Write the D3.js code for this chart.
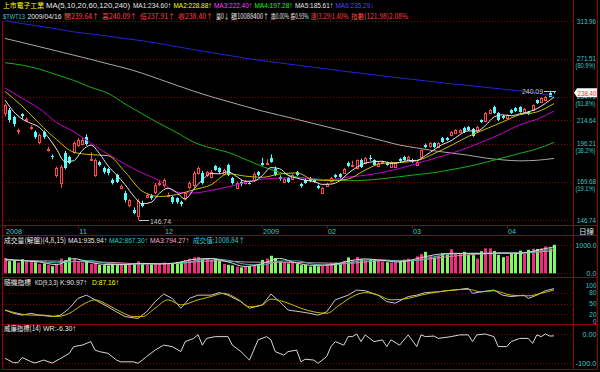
<!DOCTYPE html>
<html><head><meta charset="utf-8">
<script src="https://cdn.jsdelivr.net/npm/d3@7"></script>
<style>html,body{margin:0;padding:0;background:#000;}svg{display:block;}</style>
</head><body>
<svg id="c" width="600" height="372"></svg>
<script>
// ---------------- DATA ----------------
const dates = [
"2008/10/08","2008/10/09","2008/10/13","2008/10/14","2008/10/15","2008/10/16","2008/10/17","2008/10/20","2008/10/21","2008/10/22","2008/10/23","2008/10/24","2008/10/27","2008/10/28","2008/10/29","2008/10/30","2008/10/31",
"2008/11/03","2008/11/04","2008/11/05","2008/11/06","2008/11/07","2008/11/10","2008/11/11","2008/11/12","2008/11/13","2008/11/14","2008/11/17","2008/11/18","2008/11/19","2008/11/20","2008/11/21","2008/11/24","2008/11/25","2008/11/26","2008/11/27","2008/11/28",
"2008/12/01","2008/12/02","2008/12/03","2008/12/04","2008/12/05","2008/12/08","2008/12/09","2008/12/10","2008/12/11","2008/12/12","2008/12/15","2008/12/16","2008/12/17","2008/12/18","2008/12/19","2008/12/22","2008/12/23","2008/12/24","2008/12/25","2008/12/26","2008/12/29","2008/12/30","2008/12/31",
"2009/01/05","2009/01/06","2009/01/07","2009/01/08","2009/01/09","2009/01/10","2009/01/12","2009/01/13","2009/01/14","2009/01/15","2009/01/16","2009/01/17","2009/01/19","2009/01/20","2009/01/21",
"2009/02/02","2009/02/03","2009/02/04","2009/02/05","2009/02/06","2009/02/09","2009/02/10","2009/02/11","2009/02/12","2009/02/13","2009/02/16","2009/02/17","2009/02/18","2009/02/19","2009/02/20","2009/02/23","2009/02/24","2009/02/25","2009/02/26","2009/02/27",
"2009/03/02","2009/03/03","2009/03/04","2009/03/05","2009/03/06","2009/03/09","2009/03/10","2009/03/11","2009/03/12","2009/03/13","2009/03/16","2009/03/17","2009/03/18","2009/03/19","2009/03/20","2009/03/23","2009/03/24","2009/03/25","2009/03/26","2009/03/27","2009/03/30","2009/03/31",
"2009/04/01","2009/04/02","2009/04/03","2009/04/06","2009/04/07","2009/04/08","2009/04/09","2009/04/10","2009/04/13","2009/04/14","2009/04/15","2009/04/16"];

const monthLabels = [["2008/10/08","2008"],["2008/11/03","11"],["2008/12/01","12"],["2009/01/05","2009"],["2009/02/02","02"],["2009/03/02","03"],["2009/04/01","04"]];

const openP = [220.5,223,217,206,219.5,215,208.5,205.5,197.6,205.2,192,187,174.2,169,189.4,186.6,190.1,
195.3,195.9,201.4,184.8,174.2,183.1,178.9,178.2,170.9,174.2,165.8,162.6,155.4,152.5,149,156.6,160.2,161,163.3,168.6,
167.7,161,160.2,159.6,157.2,159.6,166.4,167.7,175.6,175.6,174.2,172.9,180.3,178.9,174.9,181,172.2,165.8,169.6,169,169.3,170.9,176.2,
182.4,182.2,185.9,178.2,172.9,169.6,172.2,171.5,176.2,168.3,170.9,172.2,170.9,167,162.6,
167,170.2,174.2,174.9,175.6,182.4,180.8,178.9,184.5,182.4,186.2,184.5,180.3,182.4,182.4,179.6,179.6,185.2,186.6,185.2,
184.5,181,186.6,195.3,194.5,196.8,193.8,200.6,200.6,202.9,204.5,205.2,208.4,209.2,207.6,206,214.9,214,220.7,225.8,220.7,218.2,
216.5,223.2,225,225.8,220.7,221.5,223.2,231.9,230.2,231.9,238.5,239.64];
const highP = [229,225,218.5,208,220.5,217,210.5,206.5,204,206.5,194,188.5,180,181,191,187.5,198,
200.5,201,203.5,190,185.5,184,180,179,172,175,168,164,159,154,159,158,162.5,162,169,171,
172,163,161,160,158,163.5,170,177,180,177,177,177.5,181,179.5,178.5,182,173,170,171,171,170,176,177,
186,185,188.5,180,174,172.5,173,175,177,169,172,173,171.5,168,166.5,
169,173,175,175.5,179,183.5,184,185,185.5,186.5,188,185,183.5,184,183.5,183.5,183,186,187.5,187.5,
185.5,183.8,192,196.5,197.5,197.5,197.5,201.5,201.5,206,207.5,207.5,209.5,210,208.5,210,215.5,221.5,224,227,221.5,219,
219.5,224,225.8,226.5,225,222.5,228,232.5,234.5,235.5,239,240.09];
const lowP = [218,213,209.5,203.5,216,213.5,207,200,196,200,190.5,185,172.5,165.8,178,181.5,189,
194,195,195,184,173,180,175,174,168,169,165,157,154,150,146.74,154,159.5,158.5,162,167,
166,160,156,156,154.5,158,165,166,174.5,168,173,172,177,175,174,173.5,168,165,167,168,168,170,173.5,
180.5,181,182.5,173.5,170.5,169,169,171,173.5,166,168.5,169.5,169,165,162,
166.5,169.5,172,172,175,179.5,180,178,179,181.5,184,180.5,179.5,181.5,180.5,179,179,183,184,184.5,
182.5,180.5,186,193,193.5,193,193,197,198.5,202,204,204.5,204.5,206,201.5,205.5,212.5,213.5,220,220,214,215.5,
215.5,220,221.5,221,220,219,222.5,228.5,229.5,231,234.5,237.91];
const closeP = [227.5,215,211,207,218,216,209.5,201.5,202.9,201.4,192.6,186.4,178.9,179.6,178.9,182.4,196.8,
199.1,199.1,196.2,185.2,184.5,181,176.2,175.6,169,169.6,167,158.4,158.4,150.8,157.8,154.9,161.4,159.6,167.7,169,
170.9,161.4,157.2,157.2,156,162.6,169,175.6,178.9,169,176.2,176.2,177.6,176.2,177.6,174.2,169,169,168.3,170.2,168.7,174.9,174.2,
181,182.6,183.1,174.2,171.5,171.5,169.6,174.2,174.2,167,169,170.2,169.6,165.8,165.8,
168.3,172.2,172.9,172.9,178.2,180.3,181.2,184.5,179.6,185.9,185.6,181,182.4,183.1,181,183.1,182.4,183.8,184.5,186.6,
183.1,183.1,191.6,193.8,196.8,193.8,196.8,197.6,199.1,205.2,206.8,206.8,205.2,206.8,202.1,209.2,213.2,220.7,223.2,220.7,214.9,216.5,
219,220.7,222.3,221.5,224.1,219.8,227.5,229.3,233.7,234.6,235.1,238.4];

const volume = [540,430,460,380,500,430,450,390,330,350,300,250,320,520,460,560,530,
420,380,400,330,360,300,290,280,310,290,300,330,340,320,420,330,310,320,340,
350,380,360,340,400,420,470,520,560,580,500,540,470,520,460,330,300,280,240,210,230,260,300,330,
470,520,620,540,420,370,350,380,330,290,300,240,280,250,260,
330,360,370,350,440,560,480,580,500,470,480,470,440,420,390,380,400,430,480,520,
470,600,680,760,600,560,620,700,650,850,720,680,760,660,640,520,780,880,880,790,650,570,
610,700,730,800,680,830,870,860,880,950,880,1008.84];

// moving averages (day index -> value)
const ma5Days = d3.range(0, 129, 2);
const ma5 = [232,222,215.7,212.3,209,201.6,192.4,183.3,184,191.3,195.3,189.2,180.5,174.3,167.9,160.8,156.1,156.9,162.5,165.7,
163.1,158.9,165,171,175.2,175,176.4,173.2,170.1,170.2,173.8,179.2,178.5,174,172.2,170.8,170,168.1,168.3,170.4,
175.3,179.4,182.3,183.3,183.6,182.1,182.7,184.1,184.2,187.6,191.8,195.8,198.5,203.1,206.2,206,210.4,217.4,219.2,218.4,
220,221.7,224.4,229,234.6];
const maDays = d3.range(0, 129, 4);
const ma10 = [239.6,226.6,212,199.5,190.1,188.3,187.6,176.3,163.8,160.5,161.7,164.7,167.8,175.1,173.5,172.7,174.9,175.6,171.1,170.6,171.6,177.6,182.2,182.8,184,189,195,201.8,207.5,213.3,219.3,221.6,228.88];
const ma20 = [243,233.5,224.5,213,205.6,196.8,188.7,181.6,175.6,170.5,163.2,162.7,164.3,166.5,169.4,171.5,172.2,172.5,171.5,171.2,172.9,174,176,178.6,182,185.5,189.2,193.5,198.7,204.3,211,215.5,222.4];
const ma60 = [267.4,265,261,255.5,250,243.5,238,228.5,220,212,205,197.5,193.2,190,185,180,176,173,171.6,171,170.5,170.8,171.8,173.1,174.5,175.8,177.8,180,182.8,186,189.2,192.5,197.28];
const ma120 = [293.4,288.9,284.3,279.8,275.3,270.9,266.3,262,256.9,251.1,245.4,239.9,235,230.7,226.4,222.4,218.9,215.5,212,208.6,205.3,201.9,198.6,195.3,193.2,191.1,189.5,187.9,185.9,184.6,183.9,184.3,185.61];
const ma240 = [313.96,310.5,307.5,304.3,300.9,298.5,295.9,293.3,290.8,287.8,284.4,281.1,278.1,275.1,272.1,269.6,267.3,265,262.8,260.6,258.4,256.4,254.3,252.4,250.5,248.6,246.8,245.2,243.5,241.8,240.2,238.2,235.29];

const volMa1 = [500,443,400,305,518,383,308,308,353,330,370,493,523,403,240,340,525,358,278,300,430,508,453,400,518,650,705,705,705,723,710,810,935.94];
const volMa2 = [480,460,421,370,412,450,345,325,330,340,350,430,508,463,321,290,433,440,318,290,365,469,480,430,459,584,678,705,705,714,716,760,867.3];
const volMa3 = [470,455,440,430,420,405,390,360,330,335,350,400,440,430,400,390,390,380,370,360,350,400,450,455,460,530,600,650,690,700,710,750,794.27];

const kSamples = [[0,32],[2,23],[4,18],[6,23],[8,18],[11,14],[13,18],[15,37],[17,64],[19,73],[21,60],[24,41],[26,27],[28,14],[31,9],[33,27],[35,55],[37,76],[39,64],[41,37],[43,64],[45,73],[48,73],[50,80],[52,73],[55,55],[57,37],[60,46],[62,76],[64,55],[66,32],[69,27],[71,23],[73,18],[75,27],[77,60],[80,73],[82,87],[84,85],[87,73],[89,55],[91,51],[94,69],[96,73],[98,80],[101,82],[103,85],[105,87],[108,92],[109,78],[111,82],[114,87],[116,73],[118,69],[121,73],[122,64],[124,73],[126,85],[128,90.97]];
const dSamples = [[0,32],[3,23],[6,18],[9,18],[12,14],[15,23],[18,46],[21,60],[24,46],[27,27],[30,14],[32,14],[35,37],[38,60],[41,46],[45,60],[48,69],[51,78],[54,64],[57,41],[60,46],[62,62],[66,51],[69,37],[72,27],[75,23],[78,46],[81,69],[84,80],[87,73],[90,60],[94,64],[97,73],[101,82],[108,89],[111,82],[114,85],[118,73],[122,71],[125,78],[128,87.16]];
const wrSamples = [[0,-83],[2,-98],[3,-98],[4,-80],[6,-94],[7,-99],[9,-89],[11,-99],[13,-83],[15,-66],[16,-43],[18,-38],[20,-26],[21,-55],[22,-60],[24,-66],[26,-89],[27,-95],[30,-95],[31,-100],[32,-89],[33,-77],[35,-55],[37,-38],[39,-43],[41,-60],[42,-26],[44,-15],[45,-2],[46,-38],[47,-15],[49,-9],[52,-9],[53,-38],[54,-49],[55,-60],[57,-89],[58,-55],[59,-20],[61,-9],[62,-20],[63,-60],[65,-72],[66,-60],[68,-55],[69,-95],[70,-86],[72,-89],[73,-100],[75,-77],[76,-43],[77,-26],[79,-38],[80,-9],[81,-9],[82,0],[83,-26],[84,-3],[86,-26],[88,-20],[89,-43],[90,-20],[92,-38],[94,-3],[96,-43],[97,-3],[98,-9],[100,-7],[101,-15],[104,-9],[106,-3],[108,-3],[109,-26],[110,-3],[112,0],[114,-9],[115,-43],[117,-43],[118,-26],[120,-15],[122,-15],[123,-32],[124,-3],[125,-9],[126,0],[127,-7],[128,-6.3]];

const fibValues = [313.96, 271.51, 234.79, 214.64, 196.21, 169.68, 146.74];
const fibPct = ["", "(80.9%)", "(61.8%)", "", "(38.2%)", "(19.1%)", ""];
const kdTicks = [100, 80, 50, 20, 0];
const lastClose = 238.40, periodHigh = 240.09, periodLow = 146.74;

// ---------------- DRAW ----------------
const svg = d3.select("#c");
svg.append("rect").attr("width", 600).attr("height", 372).attr("fill", "#000");

const CJK = "'Noto Sans CJK TC',sans-serif";
const LAT = "'Liberation Sans','DejaVu Sans',sans-serif";
const BORDER = "#9a0000", GRID = "#8a0000", AXC = "#3cc8c8";

const x = d3.scalePoint().domain(dates).range([5, 554]);
const X = d => Math.round(x(d));
const yP = d3.scaleLog().domain([146.74, 313.96]).range([220, 20.7]);
const yV = d3.scaleLinear().domain([0, 1000]).range([273.3, 245]);
const yK = d3.scaleLinear().domain([0, 100]).range([321.7, 285.3]);
const yW = d3.scaleLinear().domain([-100, 0]).range([363.3, 334]);

function seg(t, x0, y0, w, color, size) {
  const isCJK = /[\u3000-\u9fff]/.test(t);
  const el = svg.append("text").attr("x", x0).attr("y", y0).attr("fill", color)
    .attr("font-size", size || (isCJK ? 7.4 : 8)).attr("font-family", isCJK ? CJK : LAT).text(t);
  if (w) el.attr("textLength", w).attr("lengthAdjust", "spacingAndGlyphs");
  return el;
}
function hgrid(y, x1, x2) {
  svg.append("line").attr("x1", x1 || 3).attr("x2", x2 || 573).attr("y1", y).attr("y2", y)
    .attr("stroke", GRID).attr("stroke-width", 1).attr("stroke-dasharray", "1,2");
}

fibValues.forEach(v => hgrid(Math.round(yP(v)) + 0.5));
hgrid(Math.round(yV(1000)) + 0.5); hgrid(Math.round(yV(0)) + 0.5);
[80, 50, 20].forEach(v => hgrid(Math.round(yK(v)) + 0.5));
[0, -100].forEach(v => hgrid(Math.round(yW(v)) + 0.5));

const lineFor = (days, vals, ys) => d3.line().curve(d3.curveMonotoneX)
  .x((d, i) => x(dates[days[i]])).y(d => ys(d))(vals);
const mains = [[ma240, maDays, "#2424d8"], [ma120, maDays, "#a8a8a8"], [ma60, maDays, "#18b018"],
  [ma20, maDays, "#c800c8"], [ma10, maDays, "#c8c000"], [ma5, ma5Days, "#e8e8e8"]];

// candles
const N = dates.length;
const cg = svg.append("g");
for (let i = 0; i < N; i++) {
  const cx = X(dates[i]);
  const up = closeP[i] >= openP[i];
  const col = up ? "#ff4848" : "#54fcfc";
  cg.append("line").attr("x1", cx + 0.5).attr("x2", cx + 0.5)
    .attr("y1", yP(highP[i])).attr("y2", yP(lowP[i])).attr("stroke", col).attr("stroke-width", 1);
  const yt = yP(Math.max(openP[i], closeP[i])), yb = yP(Math.min(openP[i], closeP[i]));
  if (up) {
    cg.append("rect").attr("x", cx - 0.5).attr("y", Math.round(yt) + 0.5).attr("width", 2)
      .attr("height", Math.max(1, Math.round(yb - yt))).attr("fill", "#000").attr("stroke", col);
  } else {
    cg.append("rect").attr("x", cx - 1).attr("y", Math.round(yt)).attr("width", 3)
      .attr("height", Math.max(1, Math.round(yb - yt))).attr("fill", col);
  }
}
mains.forEach(([vals, days, c]) => {
  svg.append("path").attr("d", lineFor(days, vals, yP)).attr("fill", "none").attr("stroke", c).attr("stroke-width", 1);
});

// low / high annotations
{
  const iL = lowP.indexOf(periodLow), cx = X(dates[iL]);
  const yl = yP(periodLow);
  svg.append("line").attr("x1", cx + 1).attr("x2", cx + 11).attr("y1", yl + 0.5).attr("y2", yl + 0.5).attr("stroke", "#c8c8c8");
  seg(d3.format(".2f")(periodLow), cx + 12, yl + 4, 21, "#c8c8c8");
  const iH = highP.indexOf(periodHigh), hx = X(dates[iH]);
  const yh = yP(periodHigh);
  svg.append("line").attr("x1", hx - 10).attr("x2", hx - 1).attr("y1", yh + 0.5).attr("y2", yh + 0.5).attr("stroke", "#c8c8c8");
  seg(d3.format(".2f")(periodHigh), hx - 32, yh + 3, 21, "#c8c8c8");
}

// volume bars
for (let i = 0; i < N; i++) {
  const cx = X(dates[i]);
  const up = closeP[i] >= openP[i];
  svg.append("rect").attr("x", cx - 1).attr("y", yV(volume[i])).attr("width", 3)
    .attr("height", yV(0) - yV(volume[i])).attr("fill", up ? "#ee2e7c" : "#80f860");
}
[[volMa3, "#d890b0"], [volMa2, "#3cb8b8"], [volMa1, "#d8d8d8"]].forEach(([v, c]) => {
  svg.append("path").attr("d", lineFor(maDays, v, yV)).attr("fill", "none").attr("stroke", c).attr("stroke-width", 1);
});

// KD & WR
const pairLine = (arr, ys) => d3.line().x(d => x(dates[d[0]])).y(d => ys(d[1]))(arr);
svg.append("path").attr("d", pairLine(kSamples, yK)).attr("fill", "none").attr("stroke", "#c8c8c8").attr("stroke-width", 1);
svg.append("path").attr("d", d3.line().curve(d3.curveMonotoneX).x(d => x(dates[d[0]])).y(d => yK(d[1]))(dSamples))
  .attr("fill", "none").attr("stroke", "#c8c000").attr("stroke-width", 1);
svg.append("path").attr("d", pairLine(wrSamples, yW)).attr("fill", "none").attr("stroke", "#d8d8d8").attr("stroke-width", 1);

// frame
const frame = (x1, y1, x2, y2) => svg.append("line").attr("x1", x1).attr("y1", y1).attr("x2", x2).attr("y2", y2)
  .attr("stroke", BORDER).attr("stroke-width", 1);
frame(2.5, 21, 2.5, 369.5);
frame(573.5, 0, 573.5, 369.5);
frame(597.5, 0, 597.5, 369.5);
[225.5, 235.5, 277.5, 324.5, 369.5].forEach(y => frame(2.5, y, 597.5, y));
monthLabels.forEach(([d, t]) => {
  const cx = X(d);
  frame(cx + 0.5, 225.5, cx + 0.5, 228.5);
  seg(t, cx + 1, 233.6, t.length === 4 ? 16 : 8, AXC);
});
seg("日線", 579, 233.6, 15, "#e8e8e8");

// right axis main labels
fibValues.forEach((v, i) => {
  const yy = yP(v);
  const mid = (fibPct[i] === "");
  seg(d3.format(".2f")(v), 577, yy + (mid ? 3 : 2), 19, AXC, 7.4);
  if (fibPct[i]) seg(fibPct[i], 575.5, yy + 9.5, 20, AXC, 7);
});
{
  const yc = yP(lastClose);
  svg.append("path").attr("d", `M574,${yc} L577,${yc - 4.5} L597,${yc - 4.5} L597,${yc + 4.5} L577,${yc + 4.5} Z`).attr("fill", "#ffffff");
  seg(d3.format(".2f")(lastClose), 577.5, yc + 3, 19, "#ff2020", 7.4);
}
const rlab = (t, yy, w, fs) => seg(t, 596.5 - w, yy, w, AXC, fs || 7.4);
rlab("1000.0", yV(1000) + 3, 21); rlab("0.0", yV(0) + 3, 10);
kdTicks.forEach(v => rlab(String(v), yK(v) + 2.5, String(v).length * 3.6, 6.6));
rlab("0.00", yW(0) + 3, 14); rlab("-100.0", yW(-100) + 3, 21, 7);

// header
const W = "#e8e8e8";
seg("上市電子工業", 3, 8.3, 41, "#ffff00");
seg("MA(5,10,20,60,120,240)", 46, 8.3, 84, W);
seg("MA1:234.60↑", 133, 8.3, 38, W);
seg("MA2:228.88↑", 173.5, 8.3, 38, "#ffff00");
seg("MA3:222.40↑", 214, 8.3, 38, "#ff40ff");
seg("MA4:197.28↑", 254.5, 8.3, 38, "#00ff00");
seg("MA5:185.61↑", 295, 8.3, 38, W);
seg("MA6:235.29↓", 335.5, 8.3, 38, "#4848ff");
seg("$TWT13", 3, 19, 22, AXC);
seg("2009/04/16", 27.5, 19, 34, W);
seg("開239.64↑", 64, 19, 35, "#ff4040");
seg("高240.09↑", 102, 19, 35, "#ff4040");
seg("低237.91↑", 140, 19, 35, "#ff4040");
seg("收238.40↑", 178, 19, 35, "#ff4040");
seg("量0↓", 216, 19, 13, W);
seg("額10088400↑", 231, 19, 38, W);
seg("換0.00%", 271, 19, 18, W);
seg("振0.93%", 290.5, 19, 18, W);
seg("漲(3.29)1.40%", 310.5, 19, 38, "#ff4040");
seg("指數(121.98)2.08%", 351, 19, 57, "#ff4040");

// panel titles
seg("成交量(解盤)(4,8,15)", 4, 243.3, 62, W);
seg("MA1:935.94↑", 68, 243.3, 39, W);
seg("MA2:867.30↑", 109, 243.3, 39, "#3cc8c8");
seg("MA3:794.27↑", 150, 243.3, 39, "#e8b0c8");
seg("成交值:1008.84↑", 193, 243.3, 52, "#3cc8c8");
seg("隨機指標", 4, 285, 27, W);
seg("KD(9,3,3)", 35, 285, 23, W);
seg("K:90.97↑", 60, 285, 27, W);
seg("D:87.16↑", 92, 285, 27, "#ffff00");
seg("威廉指標(14)", 4, 331.3, 37, W);
seg("WR:-6.30↑", 43, 331.3, 33, W);
</script>
</body></html>
